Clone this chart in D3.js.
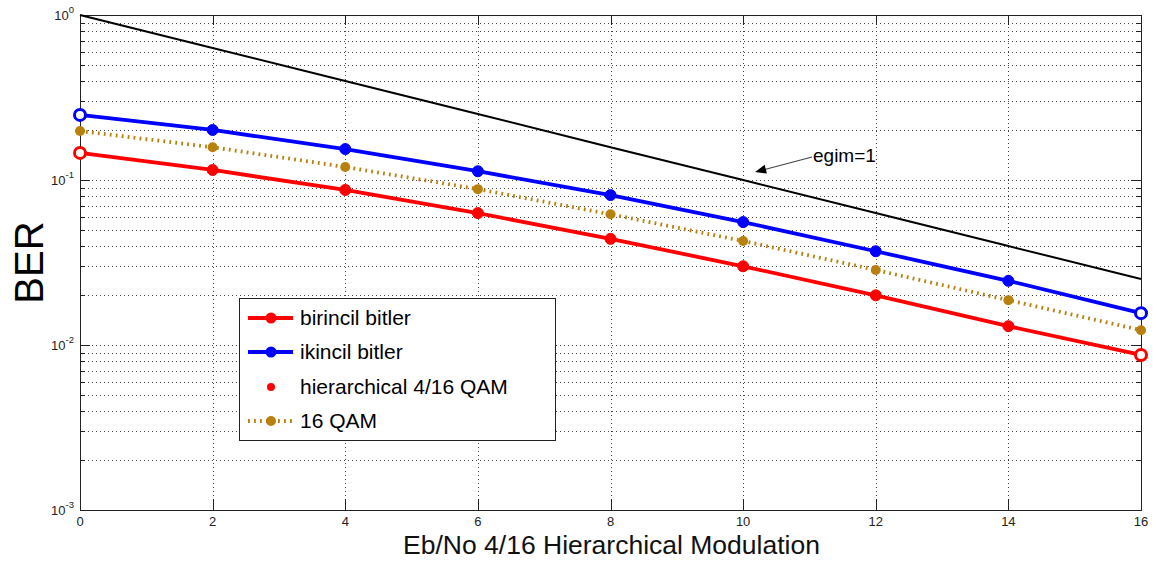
<!DOCTYPE html>
<html>
<head>
<meta charset="utf-8">
<script src="https://cdn.jsdelivr.net/npm/d3@7"></script>
<style>
  html, body { margin: 0; padding: 0; background: #fff; }
  svg { display: block; font-family: Arial, "Liberation Sans", sans-serif; }
</style>
</head>
<body>
<svg id="chart" width="1153" height="563"></svg>
<script>
// Eb/No points (dB)
const ebno = [0, 2, 4, 6, 8, 10, 12, 14, 16];

// BER curves
const birincil = [0.146, 0.115, 0.087, 0.063, 0.044, 0.030, 0.020, 0.013, 0.0087];
const ikincil  = [0.248, 0.201, 0.154, 0.113, 0.081, 0.0556, 0.037, 0.0245, 0.0156];
const qam16    = [0.198, 0.158, 0.120, 0.088, 0.062, 0.0427, 0.0285, 0.0187, 0.0123];
const slopeRef = [1, 0.631, 0.398, 0.251, 0.158, 0.1, 0.0631, 0.0398, 0.0251];

const xTicks = [0, 2, 4, 6, 8, 10, 12, 14, 16];
const yDecades = [-3, -2, -1, 0];

const legendLabels = ["birincil bitler", "ikincil bitler", "hierarchical 4/16 QAM", "16 QAM"];
const annotationText = "egim=1";
const xTitle = "Eb/No 4/16 Hierarchical Modulation";
const yTitle = "BER";

const svg = d3.select("#chart");
const plot = { left: 80, right: 1141, top: 15, bottom: 510 };

const x = d3.scaleLinear().domain([0, 16]).range([plot.left, plot.right]);
const y = d3.scaleLog().domain([1e-3, 1]).range([plot.bottom, plot.top]);

// minor/major log positions
const yAll = [];
for (let d = -3; d < 0; d++) {
  for (let m = 1; m < 10; m++) yAll.push(m * Math.pow(10, d));
}
yAll.push(1);

// grid
const grid = svg.append("g").attr("stroke", "#444").attr("stroke-width", 1)
  .attr("stroke-dasharray", "1,3").attr("fill", "none");
grid.selectAll("line.gy").data(yAll.filter(v => v > 1e-3 && v < 1)).join("line")
  .attr("x1", plot.left).attr("x2", plot.right)
  .attr("y1", d => Math.round(y(d)) + 0.5).attr("y2", d => Math.round(y(d)) + 0.5);
grid.selectAll("line.gx").data(xTicks.filter(v => v > 0 && v < 16)).join("line")
  .attr("y1", plot.top).attr("y2", plot.bottom)
  .attr("x1", d => Math.round(x(d)) + 0.5).attr("x2", d => Math.round(x(d)) + 0.5);

// axes box with inward ticks
const axisG = svg.append("g").attr("stroke", "#222").attr("stroke-width", 1).attr("fill", "none");
axisG.append("rect")
  .attr("x", plot.left + 0.5).attr("y", plot.top + 0.5)
  .attr("width", plot.right - plot.left).attr("height", plot.bottom - plot.top);

const isMajor = v => Math.abs(Math.log10(v) - Math.round(Math.log10(v))) < 1e-9;
yAll.forEach(v => {
  const yy = Math.round(y(v)) + 0.5;
  const len = isMajor(v) ? 10 : 5;
  axisG.append("line").attr("x1", plot.left).attr("x2", plot.left + len).attr("y1", yy).attr("y2", yy);
  axisG.append("line").attr("x1", plot.right).attr("x2", plot.right - len).attr("y1", yy).attr("y2", yy);
});
xTicks.forEach(v => {
  const xx = Math.round(x(v)) + 0.5;
  axisG.append("line").attr("x1", xx).attr("x2", xx).attr("y1", plot.bottom).attr("y2", plot.bottom - 11);
  axisG.append("line").attr("x1", xx).attr("x2", xx).attr("y1", plot.top).attr("y2", plot.top + 10);
});

// tick labels
svg.append("g").selectAll("text").data(xTicks).join("text")
  .attr("x", d => x(d)).attr("y", 526)
  .attr("text-anchor", "middle").attr("font-size", 13).attr("fill", "#222")
  .text(d => d);

const yl = svg.append("g").attr("fill", "#222");
yDecades.forEach(d => {
  const t = yl.append("text").attr("x", 74).attr("y", y(Math.pow(10, d)) + 5)
    .attr("text-anchor", "end").attr("font-size", 13);
  t.append("tspan").text("10");
  t.append("tspan").attr("dy", -7).attr("font-size", 9.5).text(d);
});

// axis titles
svg.append("text").attr("x", x(8) + 1).attr("y", 554).attr("text-anchor", "middle")
  .attr("font-size", 26.5).attr("fill", "#111").text(xTitle);
svg.append("text").attr("transform", `translate(43, ${(plot.top + plot.bottom) / 2}) rotate(-90)`)
  .attr("text-anchor", "middle").attr("font-size", 40).attr("fill", "#000").text(yTitle);

// curves
const line = d3.line().x((d, i) => x(ebno[i])).y(d => y(d));
const curves = svg.append("g");

curves.append("path").datum(slopeRef).attr("d", line)
  .attr("fill", "none").attr("stroke", "#000").attr("stroke-width", 2);

const brown = "#b8800c";
curves.append("path").datum(qam16).attr("d", line)
  .attr("fill", "none").attr("stroke", brown).attr("stroke-width", 3.8).attr("stroke-dasharray", "1.8,4.2");
curves.selectAll("circle.q").data(qam16).join("circle")
  .attr("cx", (d, i) => x(ebno[i])).attr("cy", d => y(d)).attr("r", 5).attr("fill", brown);

function solidSeries(vals, color) {
  curves.append("path").datum(vals).attr("d", line)
    .attr("fill", "none").attr("stroke", color).attr("stroke-width", 3.8);
  curves.append("g").selectAll("circle").data(vals).join("circle")
    .attr("cx", (d, i) => x(ebno[i])).attr("cy", d => y(d)).attr("r", 5.5)
    .attr("fill", (d, i) => (i === 0 || i === vals.length - 1) ? "#fff" : color)
    .attr("stroke", color).attr("stroke-width", (d, i) => (i === 0 || i === vals.length - 1) ? 3 : 1);
}
solidSeries(birincil, "#ff0000");
solidSeries(ikincil, "#0000ff");

// annotation arrow pointing at the reference slope line
const tip = [x(10) + 12, y(slopeRef[5]) - 8];
const tail = [812, 157];
const ang = Math.atan2(tip[1] - tail[1], tip[0] - tail[0]);
svg.append("line").attr("x1", tail[0]).attr("y1", tail[1])
  .attr("x2", tip[0] - 8 * Math.cos(ang)).attr("y2", tip[1] - 8 * Math.sin(ang))
  .attr("stroke", "#444").attr("stroke-width", 1.2);
const ah = 11, aw = 4.5;
const bx = tip[0] - ah * Math.cos(ang), by = tip[1] - ah * Math.sin(ang);
svg.append("path")
  .attr("d", `M${tip[0]},${tip[1]} L${bx + aw * Math.sin(ang)},${by - aw * Math.cos(ang)} L${bx - aw * Math.sin(ang)},${by + aw * Math.cos(ang)} Z`)
  .attr("fill", "#000");
svg.append("text").attr("x", 813).attr("y", 162).attr("font-size", 19).attr("fill", "#000").text(annotationText);

// legend
const lg = svg.append("g");
lg.append("rect").attr("x", 239.5).attr("y", 298.5).attr("width", 316).attr("height", 142)
  .attr("fill", "#fff").attr("stroke", "#222").attr("stroke-width", 1);
const legendStyles = [
  { color: "#ff0000", line: true, dash: null, r: 5.5 },
  { color: "#0000ff", line: true, dash: null, r: 5.5 },
  { color: "#ff0000", line: false, dash: null, r: 4 },
  { color: brown, line: true, dash: "1.8,4.2", r: 5 }
];
const rowY = [318, 352, 387, 421];
legendLabels.forEach((lab, i) => {
  const s = legendStyles[i];
  const cy = rowY[i];
  if (s.line) {
    lg.append("line").attr("x1", 248).attr("x2", 293).attr("y1", cy).attr("y2", cy)
      .attr("stroke", s.color).attr("stroke-width", i === 3 ? 3.8 : 3.8)
      .attr("stroke-dasharray", s.dash);
  }
  lg.append("circle").attr("cx", 271).attr("cy", cy).attr("r", s.r).attr("fill", s.color);
  lg.append("text").attr("x", 300).attr("y", cy + 7).attr("font-size", 21).attr("fill", "#000").text(lab);
});
</script>
</body>
</html>
